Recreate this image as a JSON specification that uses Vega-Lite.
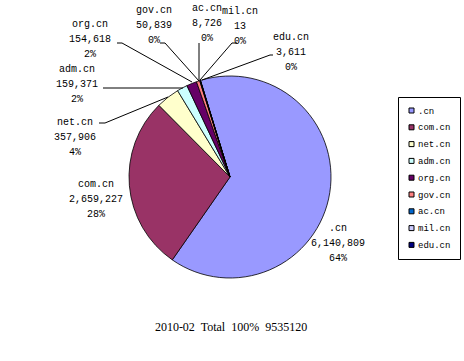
{
  "$schema": "https://vega.github.io/schema/vega-lite/v6.json",
  "width": 464,
  "height": 361,
  "padding": 0,
  "autosize": {"type": "none"},
  "background": "white",
  "config": {"view": {"stroke": null}},
  "datasets": {
    "domains": [
      {"i": 1, "name": ".cn", "value": 6140809, "pct": "64%"},
      {"i": 2, "name": "com.cn", "value": 2659227, "pct": "28%"},
      {"i": 3, "name": "net.cn", "value": 357906, "pct": "4%"},
      {"i": 4, "name": "adm.cn", "value": 159371, "pct": "2%"},
      {"i": 5, "name": "org.cn", "value": 154618, "pct": "2%"},
      {"i": 6, "name": "gov.cn", "value": 50839, "pct": "0%"},
      {"i": 7, "name": "ac.cn", "value": 8726, "pct": "0%"},
      {"i": 8, "name": "mil.cn", "value": 13, "pct": "0%"},
      {"i": 9, "name": "edu.cn", "value": 3611, "pct": "0%"}
    ],
    "labels": [
      {"name": ".cn", "value": 6140809, "pct": "64%", "lx": 1.08, "ly": -0.66},
      {"name": "com.cn", "value": 2659227, "pct": "28%", "lx": -1.34, "ly": -0.22},
      {"name": "net.cn", "value": 357906, "pct": "4%", "lx": -1.55, "ly": 0.40},
      {"name": "adm.cn", "value": 159371, "pct": "2%", "lx": -1.53, "ly": 0.93},
      {"name": "org.cn", "value": 154618, "pct": "2%", "lx": -1.40, "ly": 1.38},
      {"name": "gov.cn", "value": 50839, "pct": "0%", "lx": -0.76, "ly": 1.52},
      {"name": "ac.cn", "value": 8726, "pct": "0%", "lx": -0.23, "ly": 1.54},
      {"name": "mil.cn", "value": 13, "pct": "0%", "lx": 0.10, "ly": 1.51},
      {"name": "edu.cn", "value": 3611, "pct": "0%", "lx": 0.61, "ly": 1.25}
    ],
    "leaders": [
      {"x": -1.31, "y": 0.54, "x2": -1.25, "y2": 0.54},
      {"x": -1.25, "y": 0.54, "x2": -0.62, "y2": 0.80},
      {"x": -1.27, "y": 0.89, "x2": -0.47, "y2": 0.89},
      {"x": -1.13, "y": 1.34, "x2": -1.08, "y2": 1.34},
      {"x": -1.08, "y": 1.34, "x2": -0.38, "y2": 0.95},
      {"x": -0.70, "y": 1.34, "x2": -0.65, "y2": 1.34},
      {"x": -0.65, "y": 1.34, "x2": -0.31, "y2": 0.96},
      {"x": -0.31, "y": 1.34, "x2": -0.31, "y2": 0.97},
      {"x": 0.07, "y": 1.34, "x2": 0.02, "y2": 1.34},
      {"x": 0.02, "y": 1.34, "x2": -0.30, "y2": 0.97},
      {"x": 0.43, "y": 1.22, "x2": 0.40, "y2": 1.22},
      {"x": 0.40, "y": 1.22, "x2": -0.28, "y2": 0.97}
    ]
  },
  "layer": [
    {
      "data": {"name": "domains"},
      "mark": {"type": "arc", "outerRadius": 101, "stroke": "black", "strokeWidth": 0.8},
      "encoding": {
        "x": {"datum": 0, "type": "quantitative", "scale": {"domain": [-2.30, 2.34], "nice": false, "zero": false}, "axis": null},
        "y": {"datum": 0, "type": "quantitative", "scale": {"domain": [-1.84, 1.77], "nice": false, "zero": false}, "axis": null},
        "theta": {"field": "value", "type": "quantitative", "stack": true, "scale": {"range": [-0.2967, 5.9865]}},
        "order": {"field": "i", "type": "quantitative", "sort": "ascending"},
        "color": {
          "field": "name", "type": "nominal",
          "scale": {
            "domain": [".cn", "com.cn", "net.cn", "adm.cn", "org.cn", "gov.cn", "ac.cn", "mil.cn", "edu.cn"],
            "range": ["#9999FF", "#993366", "#FFFFCC", "#CCFFFF", "#660066", "#FF8080", "#0066CC", "#CCCCFF", "#000080"]
          },
          "legend": {
            "title": null,
            "orient": "none",
            "legendX": 398,
            "legendY": 97,
            "strokeColor": "black",
            "fillColor": "white",
            "padding": 9,
            "symbolType": "square",
            "symbolSize": 25,
            "symbolStrokeColor": "black",
            "symbolStrokeWidth": 1,
            "symbolOpacity": 1,
            "labelFont": "Liberation Mono",
            "labelFontSize": 9,
            "labelColor": "black",
            "labelOffset": 2,
            "rowPadding": 6.8,
            "labelLimit": 100
          }
        }
      }
    },
    {
      "data": {"name": "leaders"},
      "mark": {"type": "rule", "color": "black", "strokeWidth": 1},
      "encoding": {
        "x": {"field": "x", "type": "quantitative", "scale": {"domain": [-2.30, 2.34], "nice": false, "zero": false}, "axis": null},
        "y": {"field": "y", "type": "quantitative", "scale": {"domain": [-1.84, 1.77], "nice": false, "zero": false}, "axis": null},
        "x2": {"field": "x2"},
        "y2": {"field": "y2"}
      }
    },
    {
      "data": {"name": "labels"},
      "mark": {"type": "text", "font": "Liberation Mono", "fontSize": 10, "color": "black", "align": "center", "baseline": "middle", "dy": -15},
      "encoding": {
        "x": {"field": "lx", "type": "quantitative", "scale": {"domain": [-2.30, 2.34], "nice": false, "zero": false}, "axis": null},
        "y": {"field": "ly", "type": "quantitative", "scale": {"domain": [-1.84, 1.77], "nice": false, "zero": false}, "axis": null},
        "text": {"field": "name", "type": "nominal"}
      }
    },
    {
      "data": {"name": "labels"},
      "mark": {"type": "text", "font": "Liberation Mono", "fontSize": 10, "color": "black", "align": "center", "baseline": "middle", "dy": 0},
      "encoding": {
        "x": {"field": "lx", "type": "quantitative", "scale": {"domain": [-2.30, 2.34], "nice": false, "zero": false}, "axis": null},
        "y": {"field": "ly", "type": "quantitative", "scale": {"domain": [-1.84, 1.77], "nice": false, "zero": false}, "axis": null},
        "text": {"field": "value", "type": "quantitative", "format": ","}
      }
    },
    {
      "data": {"name": "labels"},
      "mark": {"type": "text", "font": "Liberation Mono", "fontSize": 10, "color": "black", "align": "center", "baseline": "middle", "dy": 15},
      "encoding": {
        "x": {"field": "lx", "type": "quantitative", "scale": {"domain": [-2.30, 2.34], "nice": false, "zero": false}, "axis": null},
        "y": {"field": "ly", "type": "quantitative", "scale": {"domain": [-1.84, 1.77], "nice": false, "zero": false}, "axis": null},
        "text": {"field": "pct", "type": "nominal"}
      }
    },
    {
      "data": {"values": [{"caption": "2010-02\u00a0 Total\u00a0 100%\u00a0 9535120"}]},
      "mark": {"type": "text", "font": "Liberation Serif", "fontSize": 12, "color": "black", "align": "center", "baseline": "middle"},
      "encoding": {
        "x": {"datum": 0.01, "type": "quantitative", "scale": {"domain": [-2.30, 2.34], "nice": false, "zero": false}, "axis": null},
        "y": {"datum": -1.50, "type": "quantitative", "scale": {"domain": [-1.84, 1.77], "nice": false, "zero": false}, "axis": null},
        "text": {"field": "caption", "type": "nominal"}
      }
    }
  ]
}
